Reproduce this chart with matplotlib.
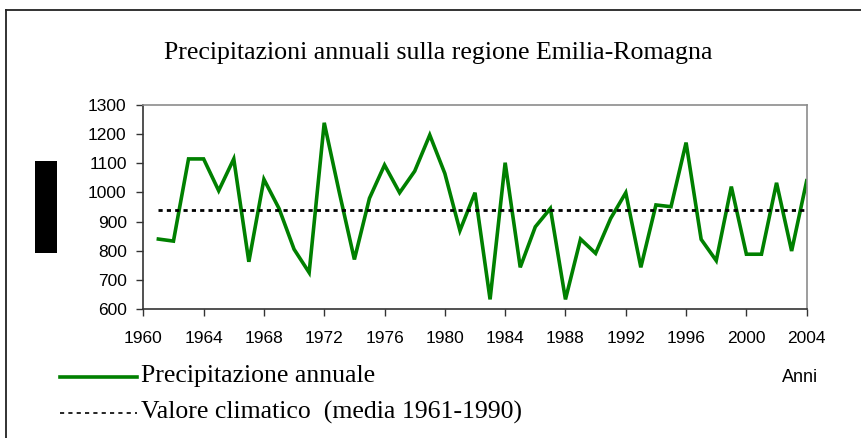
import matplotlib.pyplot as plt
from matplotlib.lines import Line2D
from matplotlib.patches import Rectangle

# annual precipitation (mm), Emilia-Romagna
anni = list(range(1961, 2005))
precipitazione = [840, 833, 1115, 1115, 1006, 1115, 762, 1045, 945, 805,
                  725, 1239, 1000, 770, 980, 1094, 999, 1073, 1197, 1065,
                  869, 999, 633, 1102, 743, 882, 945, 633, 840, 791,
                  911, 999, 743, 957, 951, 1171, 839, 766, 1020, 788,
                  788, 1033, 799, 1040]
valore_climatico = 940
xticks = list(range(1960, 2005, 4))
yticks = list(range(600, 1301, 100))

W, H = 861, 438
fig = plt.figure(figsize=(W / 100, H / 100), dpi=100)
ax = fig.add_axes([143.3 / W, 1 - 309 / H, 663.4 / W, 204 / H])

green = '#008000'
ax.plot(anni, precipitazione, color=green, linewidth=2.6, solid_joinstyle='miter')
ax.plot([anni[0], anni[-1]], [valore_climatico] * 2, color='black',
        linewidth=2.0, linestyle=(0, (1.5, 1.5)))

ax.set_xlim(1960, 2004)
ax.set_ylim(600, 1300)
ax.set_xticks(xticks)
ax.set_yticks(yticks)
ax.tick_params(direction='out', length=5, width=1, color='#333333',
               labelsize=12.5)
ax.tick_params(axis='x', pad=11)
ax.tick_params(axis='y', pad=7)
for lab in ax.get_xticklabels() + ax.get_yticklabels():
    lab.set_family('Liberation Sans')
for side in ['left', 'bottom']:
    ax.spines[side].set_color('#333333')
    ax.spines[side].set_linewidth(1.2)
for side in ['top', 'right']:
    ax.spines[side].set_color('#8c8c8c')
    ax.spines[side].set_linewidth(1.2)

# title
fig.text(438 / W, 1 - 53 / H, "Precipitazioni annuali sulla regione Emilia-Romagna",
         family='Liberation Serif', fontsize=18.6, ha='center', va='center')

# legend drawn by hand
fig.add_artist(Line2D([60 / W, 137 / W], [1 - 377 / H] * 2, color=green, linewidth=2.6))
fig.add_artist(Line2D([60 / W, 137 / W], [1 - 413 / H] * 2, color='black',
                      linewidth=1.2, linestyle=(0, (2.5, 2.5))))
fig.text(141 / W, 1 - 376 / H, "Precipitazione annuale", family='Liberation Serif',
         fontsize=18.5, ha='left', va='center')
fig.text(141 / W, 1 - 412 / H, "Valore climatico  (media 1961-1990)",
         family='Liberation Serif', fontsize=18.5, ha='left', va='center')
fig.text(800 / W, 1 - 377 / H, "Anni", family='Liberation Sans', fontsize=13,
         ha='center', va='center')

# black block where the y label was
fig.add_artist(Rectangle((35 / W, 1 - 253 / H), 22 / W, 92 / H,
                         facecolor='black', edgecolor='none'))

# outer frame
fig.add_artist(Line2D([6 / W, 6 / W], [0, 1 - 10 / H], color='#222222', linewidth=1.3))
fig.add_artist(Line2D([6 / W, 1], [1 - 10 / H] * 2, color='#222222', linewidth=1.3))

fig.savefig('out.png', dpi=100)
